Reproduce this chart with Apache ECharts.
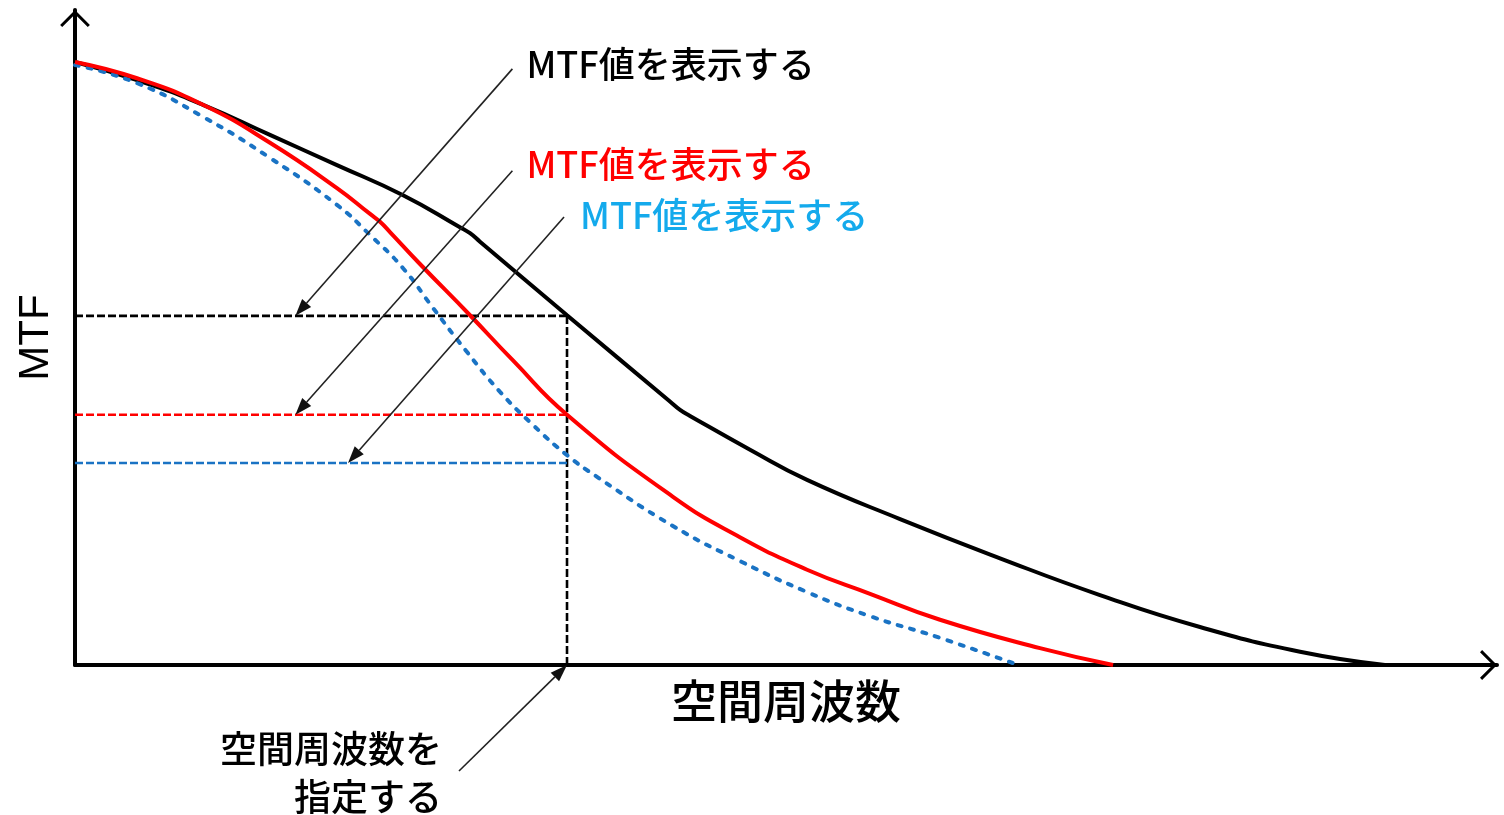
<!DOCTYPE html>
<html><head><meta charset="utf-8">
<script src="https://cdn.jsdelivr.net/npm/echarts@6/dist/echarts.min.js"></script>
<style>html,body{margin:0;padding:0;background:#fff}#c{width:1504px;height:815px}</style>
</head><body><div id="c"></div>
<script>
// ---- data (spatial frequency: arbitrary units, MTF: 0..1) ----
const blackFreq = [0, 4.36, 9.0, 13.71, 18.42, 23.07, 27.07, 27.78, 28.48, 34.6, 41.84, 42.55, 43.25, 47.47, 51.48, 58.02, 65.05, 72.08, 79.11, 86.15, 92.12];
const blackMTF  = [1.0, 0.970, 0.929, 0.879, 0.829, 0.779, 0.726, 0.716, 0.702, 0.580, 0.437, 0.423, 0.413, 0.357, 0.307, 0.242, 0.177, 0.116, 0.063, 0.022, 0];
const redFreq = [0, 4.36, 9.0, 13.71, 18.42, 20.75, 21.45, 22.15, 24.26, 27.78, 30.8, 34.6, 42.05, 46.76, 51.48, 55.91, 60.83, 67.86, 73.0];
const redMTF  = [1.0, 0.973, 0.929, 0.866, 0.791, 0.748, 0.735, 0.718, 0.665, 0.580, 0.505, 0.415, 0.279, 0.212, 0.158, 0.118, 0.075, 0.028, 0];
const blueFreq = [0, 4.36, 9.0, 13.71, 18.42, 20.75, 23.07, 25.18, 27.57, 29.89, 32.21, 34.6, 36.71, 42.05, 46.76, 51.48, 55.91, 60.83, 66.32];
const blueMTF  = [0.995, 0.965, 0.909, 0.841, 0.763, 0.713, 0.658, 0.592, 0.519, 0.453, 0.398, 0.348, 0.312, 0.2305, 0.1725, 0.121, 0.081, 0.045, 0];
const specFreq = 34.6;                       // specified spatial frequency
const mtfAtSpec = [0.579, 0.415, 0.335];     // black, red, blue read-out levels
const arrowTipFreq = [15.5, 15.5, 19.2];     // where the annotation arrows hit the read-out lines
const xMax = 100, yMax = 1.0862;
const xLabel = '空間周波数', yLabel = 'MTF';
const noteText = 'MTF値を表示する';
const bottomNote = ['空間周波数を', '指定する'];

// ---- styles ----
const colBlack = '#000000', colRed = '#ff0000', colBlue = '#1a73c4', colBlueText = '#14aaec';
const jp = '"Noto Sans CJK JP", "Noto Sans", sans-serif';
const zip = (a, b) => a.map((v, i) => [v, b[i]]);
const arrowPath = 'path://M15,0 L30,15 L27.88,17.12 L15,4.24 L2.12,17.12 L0,15 Z';

const refStyle = (c) => ({ color: c, width: 2.6, type: [8, 3] });
const option = {
  animation: false,
  backgroundColor: '#fff',
  grid: { left: 75, right: 7, top: 10, bottom: 150, containLabel: false, outerBoundsMode: 'none' },
  xAxis: {
    type: 'value', min: 0, max: xMax,
    name: xLabel, nameLocation: 'middle', nameGap: 13,
    nameTextStyle: { color: '#000', fontSize: 46, fontWeight: 500, fontFamily: jp },
    axisLine: { show: true, onZero: false, symbol: ['none', arrowPath], symbolSize: [30, 17], symbolOffset: [0, -8.5],
      lineStyle: { color: '#000', width: 4 } },
    axisTick: { show: false }, axisLabel: { show: false }, splitLine: { show: false }
  },
  yAxis: {
    type: 'value', min: 0, max: yMax,
    name: yLabel, nameLocation: 'middle', nameGap: 18, nameRotate: 90,
    nameTextStyle: { color: '#000', fontSize: 42, fontFamily: '"Liberation Sans", Arial, sans-serif' },
    axisLine: { show: true, symbol: ['none', arrowPath], symbolSize: [30, 17], symbolOffset: [0, -8.5],
      lineStyle: { color: '#000', width: 4 } },
    axisTick: { show: false }, axisLabel: { show: false }, splitLine: { show: false }
  },
  series: [
    { type: 'line', symbol: 'none', silent: true, z: 1, data: [[specFreq, 0], [specFreq, mtfAtSpec[0]]], lineStyle: refStyle(colBlack) },
    { type: 'line', symbol: 'none', silent: true, z: 1, data: [[0, mtfAtSpec[0]], [specFreq, mtfAtSpec[0]]], lineStyle: refStyle(colBlack) },
    { type: 'line', symbol: 'none', silent: true, z: 1, data: [[0, mtfAtSpec[1]], [specFreq, mtfAtSpec[1]]], lineStyle: refStyle(colRed) },
    { type: 'line', symbol: 'none', silent: true, z: 1, data: [[0, mtfAtSpec[2]], [specFreq, mtfAtSpec[2]]], lineStyle: refStyle(colBlue) },
    { type: 'line', symbol: 'none', smooth: 0.5, z: 2, data: zip(blackFreq, blackMTF), lineStyle: { color: colBlack, width: 4 } },
    { type: 'line', symbol: 'none', smooth: 0.5, z: 3, data: zip(blueFreq, blueMTF), lineStyle: { color: colBlue, width: 4, type: [4, 9], cap: 'round' } },
    { type: 'line', symbol: 'none', smooth: 0.5, z: 4, data: zip(redFreq, redMTF), lineStyle: { color: colRed, width: 4 } }
  ]
};

const chart = echarts.init(document.getElementById('c'));
chart.setOption(option);

// ---- annotation arrows (tips anchored to data via the axes) ----
const toPx = (x, y) => chart.convertToPixel({ gridIndex: 0 }, [x, y]);
const tips = [
  toPx(arrowTipFreq[0], mtfAtSpec[0]),
  toPx(arrowTipFreq[1], mtfAtSpec[1]),
  toPx(arrowTipFreq[2], mtfAtSpec[2]),
  toPx(specFreq, 0)
];
const tailOffsets = [[217, -247], [217, -244], [216, -246], [-108, 106]];
const textOffsets = [[14, -5], [14, -6], [16, -2]];
const graphics = [];
tips.forEach((t, i) => {
  const tail = [t[0] + tailOffsets[i][0], t[1] + tailOffsets[i][1]];
  const dx = t[0] - tail[0], dy = t[1] - tail[1];
  const len = Math.hypot(dx, dy), ux = dx / len, uy = dy / len;
  const L = 17, W = 12;
  const bx = t[0] - ux * L, by = t[1] - uy * L;
  const nx = -uy, ny = ux;
  graphics.push({ type: 'line', z: 20, silent: true,
    shape: { x1: tail[0], y1: tail[1], x2: bx, y2: by },
    style: { stroke: '#222', lineWidth: 1.6 } });
  graphics.push({ type: 'polygon', z: 20, silent: true,
    shape: { points: [[t[0], t[1]], [bx + nx * W / 2, by + ny * W / 2], [bx - nx * W / 2, by - ny * W / 2]] },
    style: { fill: '#111' } });
  if (i < 3) {
    const cols = [colBlack, colRed, colBlueText];
    graphics.push({ type: 'text', z: 21, silent: true,
      x: tail[0] + textOffsets[i][0], y: tail[1] + textOffsets[i][1],
      style: { text: noteText, fill: cols[i], font: '500 36px ' + jp, align: 'left', verticalAlign: 'middle' } });
  } else {
    graphics.push({ type: 'text', z: 21, silent: true,
      x: tail[0] - 17, y: tail[1] - 22,
      style: { text: bottomNote[0], fill: '#000', font: '500 37px ' + jp, align: 'right', verticalAlign: 'middle' } });
    graphics.push({ type: 'text', z: 21, silent: true,
      x: tail[0] - 17, y: tail[1] + 26,
      style: { text: bottomNote[1], fill: '#000', font: '500 37px ' + jp, align: 'right', verticalAlign: 'middle' } });
  }
});
chart.setOption({ graphic: graphics });
</script></body></html>
